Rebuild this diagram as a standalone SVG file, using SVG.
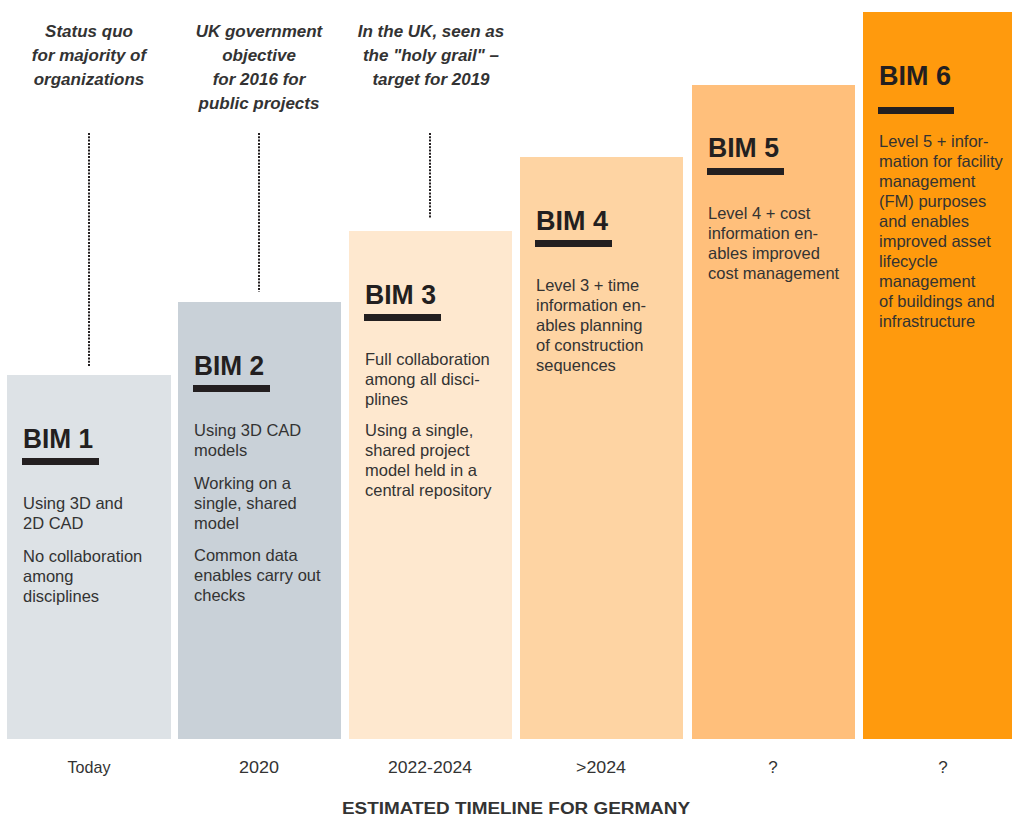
<svg xmlns="http://www.w3.org/2000/svg" width="1012" height="817" viewBox="0 0 1012 817">
<style>
.title{font-family:"Liberation Sans",Arial,sans-serif;font-weight:bold;font-size:28px;fill:#231f20}
.body{font-family:"Liberation Sans",Arial,sans-serif;font-size:16.5px;fill:#333333}
.note{font-family:"Liberation Sans",Arial,sans-serif;font-weight:bold;font-style:italic;font-size:17px;fill:#333333;text-anchor:middle}
.year{font-family:"Liberation Sans",Arial,sans-serif;font-size:17px;fill:#333333;text-anchor:middle}
.axis{font-family:"Liberation Sans",Arial,sans-serif;font-weight:bold;font-size:16px;fill:#333333;text-anchor:middle}
.bar{fill:#231f20}
.dot{stroke:#231f20;stroke-width:2;stroke-dasharray:2 1.3;fill:none}
</style>
<rect width="1012" height="817" fill="#ffffff"/>

<g id="connectors">
<line class="dot" x1="89" y1="133" x2="89" y2="367"/>
<line class="dot" x1="259" y1="133" x2="259" y2="292"/>
<line class="dot" x1="430" y1="133" x2="430" y2="218"/>
</g>

<g id="note1">
<text class="note" x="89" y="37">Status quo</text>
<text class="note" x="89" y="61">for majority of</text>
<text class="note" x="89" y="85">organizations</text>
</g>
<g id="note2">
<text class="note" x="259" y="37">UK government</text>
<text class="note" x="259" y="61">objective</text>
<text class="note" x="259" y="85">for 2016 for</text>
<text class="note" x="259" y="109">public projects</text>
</g>
<g id="note3">
<text class="note" x="431" y="37">In the UK, seen as</text>
<text class="note" x="431" y="61">the "holy grail" –</text>
<text class="note" x="431" y="85">target for 2019</text>
</g>

<g id="bim1">
<rect x="7" y="375" width="164" height="364" fill="#dde2e6"/>
<text class="title" x="23" y="448" textLength="70" lengthAdjust="spacingAndGlyphs">BIM 1</text>
<rect class="bar" x="22" y="458" width="77" height="7"/>
<text class="body" x="23" y="509">Using 3D and</text>
<text class="body" x="23" y="529">2D CAD</text>
<text class="body" x="23" y="562">No collaboration</text>
<text class="body" x="23" y="582">among</text>
<text class="body" x="23" y="602">disciplines</text>
</g>

<g id="bim2">
<rect x="178" y="302" width="163" height="437" fill="#c9d1d8"/>
<text class="title" x="194" y="375" textLength="70" lengthAdjust="spacingAndGlyphs">BIM 2</text>
<rect class="bar" x="193" y="385" width="77" height="7"/>
<text class="body" x="194" y="436">Using 3D CAD</text>
<text class="body" x="194" y="456">models</text>
<text class="body" x="194" y="489">Working on a</text>
<text class="body" x="194" y="509">single, shared</text>
<text class="body" x="194" y="529">model</text>
<text class="body" x="194" y="561">Common data</text>
<text class="body" x="194" y="581">enables carry out</text>
<text class="body" x="194" y="601">checks</text>
</g>

<g id="bim3">
<rect x="349" y="231" width="163" height="508" fill="#fee8cf"/>
<text class="title" x="365" y="304" textLength="71" lengthAdjust="spacingAndGlyphs">BIM 3</text>
<rect class="bar" x="364" y="314" width="77" height="7"/>
<text class="body" x="365" y="365">Full collaboration</text>
<text class="body" x="365" y="385">among all disci-</text>
<text class="body" x="365" y="405">plines</text>
<text class="body" x="365" y="436">Using a single,</text>
<text class="body" x="365" y="456">shared project</text>
<text class="body" x="365" y="476">model held in a</text>
<text class="body" x="365" y="496">central repository</text>
</g>

<g id="bim4">
<rect x="520" y="157" width="163" height="582" fill="#fed4a3"/>
<text class="title" x="536" y="230" textLength="72" lengthAdjust="spacingAndGlyphs">BIM 4</text>
<rect class="bar" x="535" y="240" width="77" height="7"/>
<text class="body" x="536" y="291">Level 3 + time</text>
<text class="body" x="536" y="311">information en-</text>
<text class="body" x="536" y="331">ables planning</text>
<text class="body" x="536" y="351">of construction</text>
<text class="body" x="536" y="371">sequences</text>
</g>

<g id="bim5">
<rect x="692" y="85" width="163" height="654" fill="#ffbf7b"/>
<text class="title" x="708" y="157" textLength="71" lengthAdjust="spacingAndGlyphs">BIM 5</text>
<rect class="bar" x="707" y="168" width="77" height="7"/>
<text class="body" x="708" y="219">Level 4 + cost</text>
<text class="body" x="708" y="239">information en-</text>
<text class="body" x="708" y="259">ables improved</text>
<text class="body" x="708" y="279">cost management</text>
</g>

<g id="bim6">
<rect x="863" y="12" width="149" height="727" fill="#ff9a0d"/>
<text class="title" x="879" y="85" textLength="72" lengthAdjust="spacingAndGlyphs">BIM 6</text>
<rect class="bar" x="878" y="107" width="76" height="7"/>
<text class="body" x="879" y="147">Level 5 + infor-</text>
<text class="body" x="879" y="167">mation for facility</text>
<text class="body" x="879" y="187">management</text>
<text class="body" x="879" y="207">(FM) purposes</text>
<text class="body" x="879" y="227">and enables</text>
<text class="body" x="879" y="247">improved asset</text>
<text class="body" x="879" y="267">lifecycle</text>
<text class="body" x="879" y="287">management</text>
<text class="body" x="879" y="307">of buildings and</text>
<text class="body" x="879" y="327">infrastructure</text>
</g>

<g id="timeline">
<text class="year" x="89" y="773" textLength="43" lengthAdjust="spacingAndGlyphs">Today</text>
<text class="year" x="259" y="773" textLength="40" lengthAdjust="spacingAndGlyphs">2020</text>
<text class="year" x="430" y="773" textLength="84" lengthAdjust="spacingAndGlyphs">2022-2024</text>
<text class="year" x="601" y="773" textLength="50" lengthAdjust="spacingAndGlyphs">&gt;2024</text>
<text class="year" x="773" y="773">?</text>
<text class="year" x="943" y="773">?</text>
<text class="axis" x="516" y="814" textLength="348" lengthAdjust="spacingAndGlyphs">ESTIMATED TIMELINE FOR GERMANY</text>
</g>
</svg>
